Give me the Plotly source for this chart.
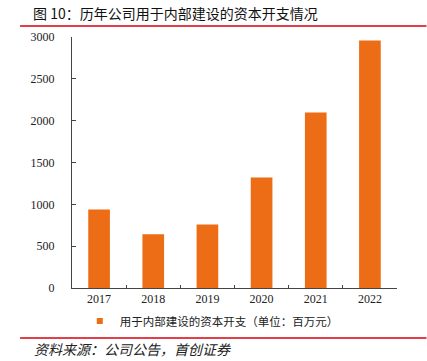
import plotly.graph_objects as go

years = ["2017", "2018", "2019", "2020", "2021", "2022"]
capex = [938, 642, 758, 1320, 2098, 2958]
series_name = "用于内部建设的资本开支（单位：百万元）"
title_text = "图 10：历年公司用于内部建设的资本开支情况"
source_text = "资料来源：公司公告，首创证券"
yticks = [0, 500, 1000, 1500, 2000, 2500, 3000]

orange = "#EC6D16"
red = "#D7000F"

fig = go.Figure()
fig.add_trace(go.Bar(x=years, y=capex, marker=dict(color=orange, line=dict(width=0)),
                     showlegend=False, name=series_name))
fig.add_trace(go.Scatter(x=[None], y=[None], mode="markers",
                         marker=dict(symbol="square", size=6, color=orange),
                         name=series_name, showlegend=True))

L, R, T, B = 72, 29.5, 37, 73
PW, PH = 427 - L - R, 361 - T - B


def px(x):
    return (x - L) / PW


def py(y):
    return (361 - B - y) / PH


fig.update_layout(
    width=427, height=361,
    margin=dict(l=L, r=R, t=T, b=B, pad=0),
    paper_bgcolor="white", plot_bgcolor="white",
    bargap=0.6,
    font=dict(family="Liberation Serif", size=12, color="#222"),
    legend=dict(orientation="h", x=px(212), xanchor="center", y=py(321), yanchor="middle",
                font=dict(family="Noto Sans CJK SC", size=11.5, color="#222"),
                itemwidth=30, bgcolor="rgba(0,0,0,0)"),
    xaxis=dict(type="category", showline=True, linecolor="#444", linewidth=1,
               ticks="inside", ticklen=3, tickcolor="#444", tickson="boundaries",
               showgrid=False, tickfont=dict(family="Liberation Serif", size=12, color="#222")),
    yaxis=dict(range=[0, 3000], tickvals=yticks, showline=True, linecolor="#444", linewidth=1,
               ticks="inside", ticklen=4, tickcolor="#444", showgrid=False, zeroline=False,
               ticklabelstandoff=14,
               tickfont=dict(family="Liberation Serif", size=12, color="#222")),
    shapes=[
        dict(type="line", xref="paper", yref="paper", x0=px(20), x1=px(427),
             y0=py(26), y1=py(26), line=dict(color=red, width=1.5)),
        dict(type="line", xref="paper", yref="paper", x0=px(20), x1=px(427),
             y0=py(338), y1=py(338), line=dict(color=red, width=1.5)),
    ],
    annotations=[
        dict(text=title_text, xref="paper", yref="paper", showarrow=False,
             x=px(31), xanchor="left", y=py(13), yanchor="middle",
             font=dict(family="Noto Sans CJK SC", size=14, color="#111")),
        dict(text="<i>" + source_text + "</i>", xref="paper", yref="paper", showarrow=False,
             x=px(32), xanchor="left", y=py(349), yanchor="middle",
             font=dict(family="Noto Sans CJK SC", size=14, color="#222")),
    ],
)

fig.write_html("out.html", config={"displayModeBar": False},
               post_script="document.body.style.margin='0';document.body.style.padding='0';")
